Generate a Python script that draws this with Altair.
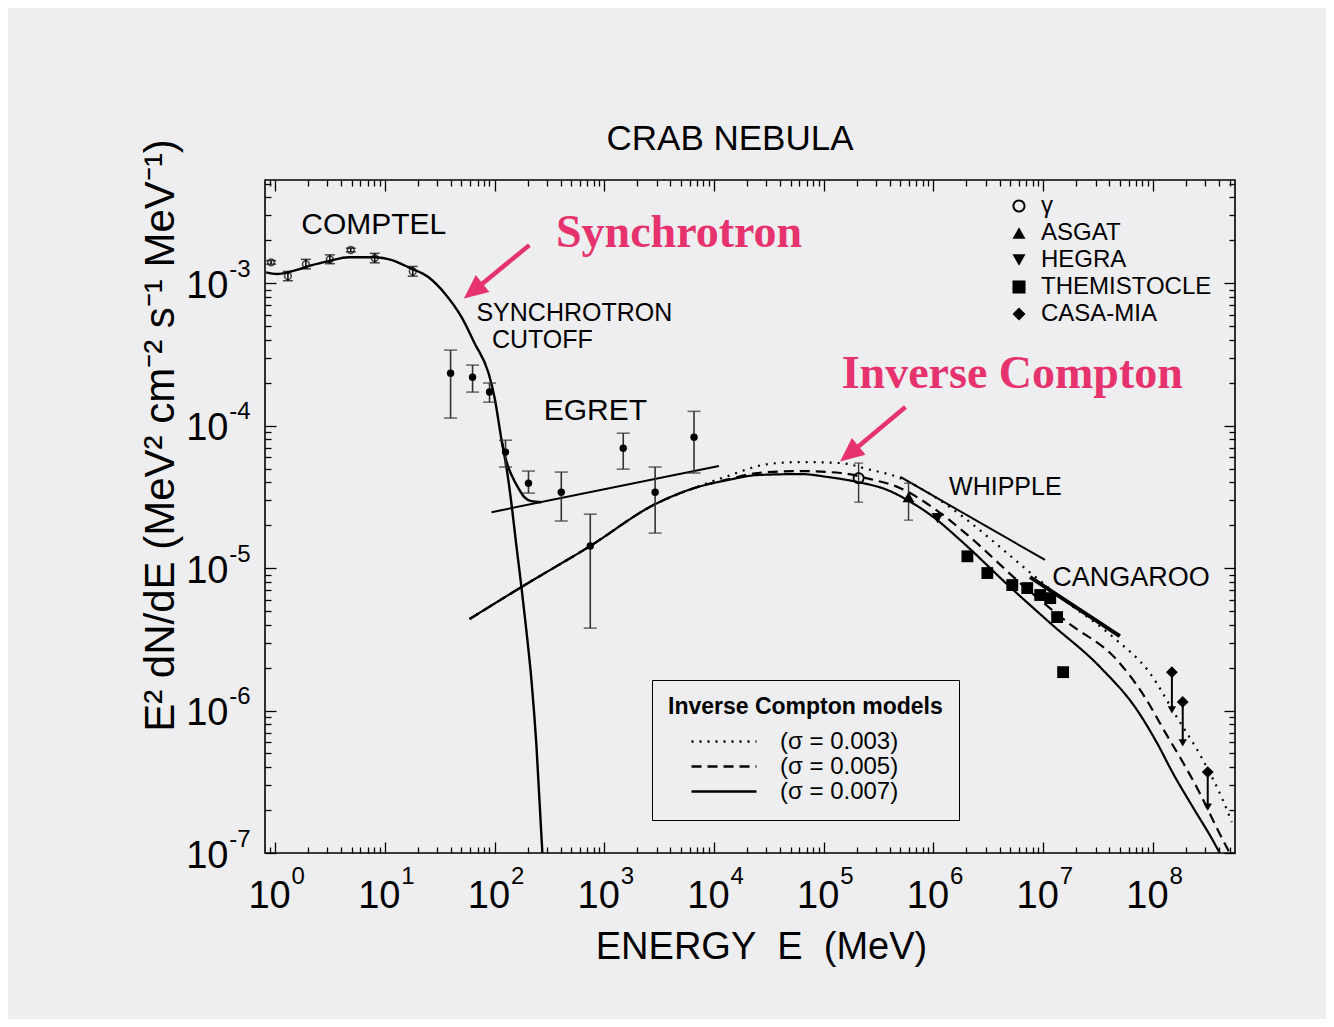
import math
import altair as alt
import pandas as pd

FONT = "Liberation Sans"
SERIF = "Liberation Serif"
PINK = "#e6336e"
BG = "#eeeef0"

# ---------------- axes ----------------
x_domain = [0.81, 5.6e8]
y_domain = [1e-7, 5.3e-3]
x_major = [1, 10, 100, 1e3, 1e4, 1e5, 1e6, 1e7, 1e8]
x_exponents = ["0", "1", "2", "3", "4", "5", "6", "7", "8"]
y_major = [1e-7, 1e-6, 1e-5, 1e-4, 1e-3]
y_exponents = ["-7", "-6", "-5", "-4", "-3"]

# ---------------- curves ----------------
sync_E = [0.83, 1.04, 1.52, 2.17, 3.10, 4.71, 8.1, 11.6, 16.5, 25.1, 35.1, 50.1, 65.8,
          88.2, 100, 116, 129, 143, 158, 176, 195, 217, 241, 273]
sync_F = [1.19e-3, 1.16e-3, 1.23e-3, 1.34e-3, 1.43e-3, 1.52e-3, 1.52e-3, 1.45e-3, 1.29e-3,
          1.10e-3, 8.5e-4, 5.77e-4, 3.79e-4, 2.34e-4, 1.58e-4, 7.9e-5, 5.0e-5, 2.8e-5,
          1.45e-5, 7.36e-6, 3.67e-6, 1.64e-6, 5.7e-7, 1.0e-7]

cut_E = [116, 129, 143, 165, 187, 217, 267]
cut_F = [7.9e-5, 5.55e-5, 4.5e-5, 3.64e-5, 3.15e-5, 2.95e-5, 2.9e-5]

egret_line_E = [94, 1.11e4]
egret_line_F = [2.47e-5, 5.2e-5]
whipple_E = [5.0e5, 1.04e7]
whipple_F = [4.36e-5, 1.14e-5]
cangaroo_E = [7.6e6, 5.0e7]
cangaroo_F = [8.65e-6, 3.33e-6]

ic_models = ["(σ = 0.003)", "(σ = 0.005)", "(σ = 0.007)"]
ic_rise_E = [59.3, 176, 746, 2910, 6580]
ic_rise_F = [4.39e-6, 7.36e-6, 1.43e-5, 2.81e-5, 3.64e-5]
ic003_E = [1.34e4, 3.1e4, 6.18e4, 1.43e5, 2.51e5, 5.0e5, 1e6, 2.04e6, 4.06e6, 7.16e6,
           1.43e7, 4.33e7, 9.4e7, 1.65e8, 2.79e8, 4.33e8, 5.23e8]
ic003_F = [4.43e-5, 5.37e-5, 5.55e-5, 5.46e-5, 4.95e-5, 4.28e-5, 3.2e-5, 2.17e-5, 1.4e-5,
           9.67e-6, 6.26e-6, 3.28e-6, 1.83e-6, 9.0e-7, 4.65e-7, 2.36e-7, 1.65e-7]
ic005_E = [1.34e4, 2.51e4, 6.18e4, 1.43e5, 2.67e5, 5.0e5, 1e6, 2.04e6, 6.18e6, 1.65e7,
           4.71e7, 8.46e7, 1.29e8, 1.87e8, 2.67e8, 3.82e8, 5.0e8]
ic005_F = [4.2e-5, 4.65e-5, 4.8e-5, 4.65e-5, 4.21e-5, 3.64e-5, 2.64e-5, 1.71e-5, 7.85e-6,
           4.18e-6, 2.26e-6, 1.24e-6, 7.06e-7, 4.35e-7, 2.64e-7, 1.5e-7, 1.0e-7]
ic007_E = [1.34e4, 2.51e4, 6.18e4, 1.09e5, 2.04e5, 3.82e5, 5.8e5, 1e6, 1.76e6, 5.0e6,
           1.16e7, 3.3e7, 7.16e7, 1.09e8, 1.52e8, 2.31e8, 3.51e8, 4.06e8]
ic007_F = [4.15e-5, 4.5e-5, 4.57e-5, 4.36e-5, 4.02e-5, 3.53e-5, 3.0e-5, 2.28e-5, 1.57e-5,
           7.36e-6, 4.11e-6, 2.02e-6, 1.01e-6, 5.92e-7, 3.64e-7, 2.1e-7, 1.23e-7, 1.0e-7]

# ---------------- data points ----------------
comptel_E = [0.92, 1.31, 1.91, 3.16, 4.9, 8.1, 18]
comptel_F = [1.40e-3, 1.12e-3, 1.36e-3, 1.47e-3, 1.71e-3, 1.50e-3, 1.21e-3]
comptel_lo = [1.36e-3, 1.04e-3, 1.26e-3, 1.37e-3, 1.66e-3, 1.39e-3, 1.12e-3]
comptel_hi = [1.44e-3, 1.21e-3, 1.47e-3, 1.58e-3, 1.76e-3, 1.62e-3, 1.31e-3]

egret_E = [39.8, 63.1, 90.1, 126, 204, 406, 746, 1490, 2910, 6580]
egret_F = [2.33e-4, 2.19e-4, 1.72e-4, 6.52e-5, 3.94e-5, 3.41e-5, 1.43e-5, 6.95e-5, 3.41e-5, 8.3e-5]
egret_hi = [3.39e-4, 2.66e-4, 1.99e-4, 7.9e-5, 4.8e-5, 4.72e-5, 2.39e-5, 8.85e-5, 5.12e-5, 1.26e-4]
egret_lo = [1.13e-4, 1.72e-4, 1.46e-4, 5.12e-5, 3.36e-5, 2.14e-5, 3.79e-6, 4.95e-5, 1.76e-5, 4.65e-5]

gb_names = ["γ", "ASGAT", "HEGRA", "THEMISTOCLE", "CASA-MIA"]
gb_inst = ["γ", "ASGAT", "HEGRA",
           "THEMISTOCLE", "THEMISTOCLE", "THEMISTOCLE", "THEMISTOCLE",
           "THEMISTOCLE", "THEMISTOCLE", "THEMISTOCLE", "THEMISTOCLE",
           "CASA-MIA", "CASA-MIA", "CASA-MIA"]
gb_E = [2.08e5, 5.93e5, 1.09e6,
        2.04e6, 3.1e6, 5.23e6, 7.16e6, 9.4e6, 1.16e7, 1.34e7, 1.52e7,
        1.49e8, 1.87e8, 3.16e8]
gb_F = [4.28e-5, 3.15e-5, 2.24e-5,
        1.21e-5, 9.23e-6, 7.6e-6, 7.24e-6, 6.47e-6, 6.15e-6, 4.53e-6, 1.86e-6,
        1.86e-6, 1.15e-6, 3.7e-7]

gb_err_E = [2.08e5, 5.93e5]
gb_err_lo = [2.9e-5, 2.17e-5]
gb_err_hi = [5.46e-5, 3.94e-5]

casa_E = [1.49e8, 1.87e8, 3.16e8]
casa_F = [1.86e-6, 1.15e-6, 3.7e-7]
casa_limit = [1.01e-6, 5.92e-7, 2.1e-7]

# ---------------- annotations ----------------
big_text = ["COMPTEL", "EGRET"]
big_E = [7.94, 829]
big_F = [2.55e-3, 1.27e-4]
mid_text = ["SYNCHROTRON", "CUTOFF", "WHIPPLE"]
mid_E = [534, 273, 4.52e6]
mid_F = [6.16e-4, 3.98e-4, 3.7e-5]
cang_text = ["CANGAROO"]
cang_E = [6.31e7]
cang_F = [8.5e-6]
pink_text = ["Synchrotron", "Inverse Compton"]
pink_E = [4810, 5.23e6]
pink_F = [2.24e-3, 2.3e-4]
arrow_E0 = [208, 5.56e5]
arrow_F0 = [1.85e-3, 1.35e-4]
arrow_E1 = [67.2, 1.8e5]
arrow_F1 = [9.08e-4, 6.52e-5]

# ======================================================================
xs = alt.Scale(type="log", domain=x_domain, nice=False)
ys = alt.Scale(type="log", domain=y_domain, nice=False)


def X(f="E"):
    return alt.X(f"{f}:Q", scale=xs, axis=None)


def Y(f="F"):
    return alt.Y(f"{f}:Q", scale=ys, axis=None)


def lookup_expr(vals, labels):
    parts = [f"abs(log(datum.value)/LN10 - ({round(math.log10(v))})) < 0.1 ? '{lab}'"
             for v, lab in zip(vals, labels)]
    return " : ".join(parts) + " : ''"


RING = "M-1,0A1,1,0,1,0,1,0A1,1,0,1,0,-1,0ZM-0.7,0A0.7,0.7,0,1,1,0.7,0A0.7,0.7,0,1,1,-0.7,0Z"
ARROW = "M0,-1L0.72,0.6L-0.72,0.6Z"

layers = []

# synchrotron curve and cutoff branch
sync_df = pd.DataFrame({"E": sync_E, "F": sync_F, "i": list(range(len(sync_E)))})
layers.append(alt.Chart(sync_df).mark_line(color="black", strokeWidth=2.4, interpolate="monotone", clip=True)
              .encode(x=X(), y=Y(), order="i:Q"))
cut_df = pd.DataFrame({"E": cut_E, "F": cut_F, "i": list(range(len(cut_E)))})
layers.append(alt.Chart(cut_df).mark_line(color="black", strokeWidth=2.4, interpolate="monotone", clip=True)
              .encode(x=X(), y=Y(), order="i:Q"))

# straight power-law lines
seg_df = pd.DataFrame({"E0": [egret_line_E[0], whipple_E[0]], "E1": [egret_line_E[1], whipple_E[1]],
                       "F0": [egret_line_F[0], whipple_F[0]], "F1": [egret_line_F[1], whipple_F[1]]})
layers.append(alt.Chart(seg_df).mark_rule(color="black", strokeWidth=2)
              .encode(x=X("E0"), x2="E1:Q", y=Y("F0"), y2="F1:Q"))
cang_df = pd.DataFrame({"E0": [cangaroo_E[0]], "E1": [cangaroo_E[1]],
                        "F0": [cangaroo_F[0]], "F1": [cangaroo_F[1]]})
layers.append(alt.Chart(cang_df).mark_rule(color="black", strokeWidth=4)
              .encode(x=X("E0"), x2="E1:Q", y=Y("F0"), y2="F1:Q"))

# inverse Compton model curves
rows = []
for name, eE, eF in zip(ic_models, [ic003_E, ic005_E, ic007_E], [ic003_F, ic005_F, ic007_F]):
    allE = ic_rise_E + eE
    allF = ic_rise_F + eF
    for k, (e, f) in enumerate(zip(allE, allF)):
        rows.append({"model": name, "E": e, "F": f, "i": k})
ic_df = pd.DataFrame(rows)
ic_leg = alt.Legend(title="Inverse Compton models", orient="none", legendX=387, legendY=500,
                    titleFont=FONT, titleFontSize=23, titleFontWeight="bold", titleColor="black",
                    labelFont=FONT, labelFontSize=24, labelColor="black",
                    strokeColor="black", fillColor=BG, padding=16,
                    symbolType="stroke", symbolSize=4225, symbolStrokeWidth=2.5,
                    symbolStrokeColor="black", symbolOffset=22, labelOffset=22,
                    rowPadding=0, titlePadding=10, clipHeight=25, titleLimit=400, labelLimit=300)
layers.append(alt.Chart(ic_df).mark_line(color="black", strokeWidth=2.2, interpolate="monotone", clip=True)
              .encode(x=X(), y=Y(), order="i:Q",
                      strokeDash=alt.StrokeDash("model:N",
                                                scale=alt.Scale(domain=ic_models,
                                                                range=[[2, 6], [10, 6], [1, 0]]),
                                                legend=ic_leg)))

# COMPTEL
c_df = pd.DataFrame({"E": comptel_E, "F": comptel_F, "lo": comptel_lo, "hi": comptel_hi})
layers.append(alt.Chart(c_df).mark_rule(color="black", strokeWidth=1.5).encode(x=X(), y=Y("lo"), y2="hi:Q"))
layers.append(alt.Chart(c_df).mark_tick(orient="horizontal", color="black", size=10, thickness=1.5)
              .encode(x=X(), y=Y("lo")))
layers.append(alt.Chart(c_df).mark_tick(orient="horizontal", color="black", size=10, thickness=1.5)
              .encode(x=X(), y=Y("hi")))
layers.append(alt.Chart(c_df).mark_point(shape="circle", filled=False, size=45, color="black", strokeWidth=1.6)
              .encode(x=X(), y=Y()))

# EGRET
e_df = pd.DataFrame({"E": egret_E, "F": egret_F, "lo": egret_lo, "hi": egret_hi})
layers.append(alt.Chart(e_df).mark_rule(color="#333333", strokeWidth=1.6).encode(x=X(), y=Y("lo"), y2="hi:Q"))
layers.append(alt.Chart(e_df).mark_tick(orient="horizontal", color="#333333", size=13, thickness=1.6)
              .encode(x=X(), y=Y("lo")))
layers.append(alt.Chart(e_df).mark_tick(orient="horizontal", color="#333333", size=13, thickness=1.6)
              .encode(x=X(), y=Y("hi")))
layers.append(alt.Chart(e_df).mark_circle(size=55, color="black", opacity=1).encode(x=X(), y=Y()))

# ground-based error bars
g_err = pd.DataFrame({"E": gb_err_E, "lo": gb_err_lo, "hi": gb_err_hi})
layers.append(alt.Chart(g_err).mark_rule(color="#333333", strokeWidth=1.4).encode(x=X(), y=Y("lo"), y2="hi:Q"))
layers.append(alt.Chart(g_err).mark_tick(orient="horizontal", color="#333333", size=9, thickness=1.4)
              .encode(x=X(), y=Y("lo")))
layers.append(alt.Chart(g_err).mark_tick(orient="horizontal", color="#333333", size=9, thickness=1.4)
              .encode(x=X(), y=Y("hi")))

# CASA-MIA upper-limit arrows
casa_df = pd.DataFrame({"E": casa_E, "F": casa_F, "lim": casa_limit})
layers.append(alt.Chart(casa_df).mark_rule(color="black", strokeWidth=2).encode(x=X(), y=Y(), y2="lim:Q"))
layers.append(alt.Chart(casa_df).mark_point(shape="triangle-down", filled=True, size=70, color="black", opacity=1)
              .encode(x=X(), y=Y("lim")))

# ground-based points with legend
gb_df = pd.DataFrame({"inst": gb_inst, "E": gb_E, "F": gb_F})
gb_leg = alt.Legend(title=None, orient="none", legendX=742, legendY=14,
                    labelFont=FONT, labelFontSize=24, labelColor="black", labelLimit=300,
                    symbolSize=170, symbolStrokeWidth=0, symbolFillColor="black",
                    labelOffset=10, rowPadding=3, padding=0)
layers.append(alt.Chart(gb_df).mark_point(filled=True, size=140, color="black", opacity=1)
              .encode(x=X(), y=Y(),
                      shape=alt.Shape("inst:N", scale=alt.Scale(domain=gb_names,
                                                                range=[RING, "triangle-up", "triangle-down",
                                                                       "square", "diamond"]),
                                      legend=gb_leg)))

# text annotations
big_df = pd.DataFrame({"t": big_text, "E": big_E, "F": big_F})
layers.append(alt.Chart(big_df).mark_text(font=FONT, fontSize=30, color="black", align="center", baseline="middle")
              .encode(x=X(), y=Y(), text="t:N"))
mid_df = pd.DataFrame({"t": mid_text, "E": mid_E, "F": mid_F})
layers.append(alt.Chart(mid_df).mark_text(font=FONT, fontSize=25, color="black", align="center", baseline="middle")
              .encode(x=X(), y=Y(), text="t:N"))
cang_t_df = pd.DataFrame({"t": cang_text, "E": cang_E, "F": cang_F})
layers.append(alt.Chart(cang_t_df).mark_text(font=FONT, fontSize=27, color="black", align="center",
                                             baseline="middle")
              .encode(x=X(), y=Y(), text="t:N"))
pink_df = pd.DataFrame({"t": pink_text, "E": pink_E, "F": pink_F})
layers.append(alt.Chart(pink_df).mark_text(font=SERIF, fontSize=46, fontWeight="bold", color=PINK,
                                           align="center", baseline="middle")
              .encode(x=X(), y=Y(), text="t:N"))

# pink arrows
arr_df = pd.DataFrame({"E0": arrow_E0, "F0": arrow_F0, "E1": arrow_E1, "F1": arrow_F1})
layers.append(alt.Chart(arr_df).mark_rule(color=PINK, strokeWidth=4.5)
              .encode(x=X("E0"), x2="E1:Q", y=Y("F0"), y2="F1:Q"))
layers.append(alt.Chart(arr_df).mark_point(shape=ARROW, angle=231, size=900,
                                           filled=True, color=PINK, opacity=1)
              .encode(x=X("E1"), y=Y("F1")))

# ---------------- axes (carried by invisible layers) ----------------
x_minor = [k * 10.0 ** d for d in range(-1, 9) for k in range(2, 10)
           if x_domain[0] <= k * 10.0 ** d <= x_domain[1]]
y_minor = [k * 10.0 ** d for d in range(-7, -2) for k in range(2, 10)
           if y_domain[0] <= k * 10.0 ** d <= y_domain[1]]


def tick_axis(orient, vals, size):
    return alt.Axis(orient=orient, values=vals, tickSize=size, offset=-size, labels=False,
                    domain=False, grid=False, ticks=True, tickColor="black", tickWidth=1.3, title="")


def x_carrier(axis):
    return alt.Chart(pd.DataFrame({"v": [10.0]})).mark_point(opacity=0).encode(
        x=alt.X("v:Q", scale=xs, axis=axis))


def y_carrier(axis):
    return alt.Chart(pd.DataFrame({"v": [1e-5]})).mark_point(opacity=0).encode(
        y=alt.Y("v:Q", scale=ys, axis=axis))


x_base_axis = alt.Axis(orient="bottom", values=x_major, ticks=False, tickSize=0, domain=False, grid=False,
                       labelExpr="'10'", labelFont=FONT, labelFontSize=38, labelColor="black",
                       labelPadding=24, labelOffset=-6, labelOverlap=False, labelFlush=False,
                       title="ENERGY\u00a0\u00a0E\u00a0\u00a0(MeV)", titleFont=FONT, titleFontSize=38,
                       titleFontWeight="normal", titleColor="black", titleX=496, titleY=94,
                       titleAlign="center", titleBaseline="middle")
x_exp_axis = alt.Axis(orient="bottom", values=x_major, ticks=False, tickSize=0, domain=False, grid=False,
                      labelExpr=lookup_expr(x_major, x_exponents), labelFont=FONT, labelFontSize=24,
                      labelColor="black", labelPadding=11, labelOffset=16, labelAlign="left",
                      labelOverlap=False, labelFlush=False, title="")
y_base_axis = alt.Axis(orient="left", values=y_major, ticks=False, tickSize=0, domain=False, grid=False,
                       labelExpr="'10'", labelFont=FONT, labelFontSize=38, labelColor="black",
                       labelPadding=37, labelOffset=3, labelOverlap=False, labelFlush=False,
                       title="E² dN/dE  (MeV² cm⁻² s⁻¹ MeV⁻¹)", titleFont=FONT, titleFontSize=42,
                       titleFontWeight="normal", titleColor="black", titleX=-105, titleY=255,
                       titleAngle=270, titleAlign="center", titleBaseline="middle")
y_exp_axis = alt.Axis(orient="left", values=y_major, ticks=False, tickSize=0, domain=False, grid=False,
                      labelExpr=lookup_expr(y_major, y_exponents), labelFont=FONT, labelFontSize=24,
                      labelColor="black", labelPadding=15, labelOffset=-14, labelAlign="right",
                      labelOverlap=False, labelFlush=False, title="")

layers += [
    x_carrier(x_base_axis),
    x_carrier(x_exp_axis),
    y_carrier(y_base_axis),
    y_carrier(y_exp_axis),
    x_carrier(tick_axis("bottom", x_major, 11)),
    x_carrier(tick_axis("bottom", x_minor, 6)),
    x_carrier(tick_axis("top", x_major, 11)),
    x_carrier(tick_axis("top", x_minor, 6)),
    y_carrier(tick_axis("left", y_major, 11)),
    y_carrier(tick_axis("left", y_minor, 6)),
    y_carrier(tick_axis("right", y_major, 11)),
    y_carrier(tick_axis("right", y_minor, 6)),
]

chart = (
    alt.layer(*layers)
    .resolve_axis(x="independent", y="independent")
    .properties(
        width=970, height=673, background=BG,
        padding={"left": 257, "top": 172, "right": 91, "bottom": 166},
        autosize=alt.AutoSizeParams(type="none"),
        title=alt.TitleParams("CRAB NEBULA", font=FONT, fontSize=35, fontWeight="normal", color="black",
                              anchor="middle", offset=30, baseline="bottom", dx=-20, dy=89),
    )
    .configure_view(stroke="black", strokeWidth=1.6)
)

chart.save("out.html", embed_options={"renderer": "svg", "actions": False})
